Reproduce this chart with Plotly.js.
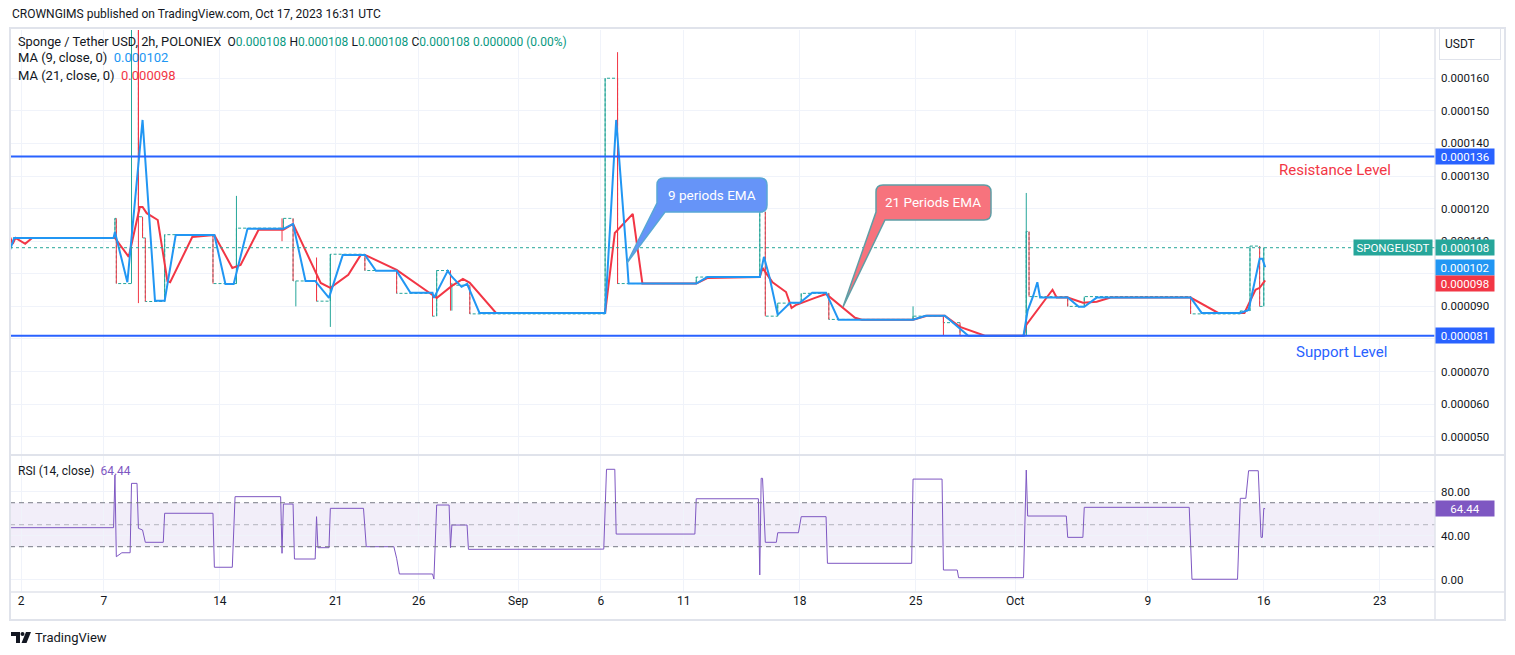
<!DOCTYPE html>
<html>
<head>
<meta charset="utf-8">
<script src="https://cdn.plot.ly/plotly-3.0.1.min.js"></script>
<style>html,body{margin:0;padding:0;background:#fff;}#chart{width:1515px;height:655px;}</style>
</head>
<body>
<div id="chart"></div>
<script>
// ---------------- DATA ----------------
// close price (step series, value holds until next time)
const priceT = ['2023-07-31 00:00','2023-08-07 16:00','2023-08-07 18:00','2023-08-08 16:00','2023-08-09 02:00','2023-08-09 08:00','2023-08-09 12:00','2023-08-10 16:00','2023-08-13 14:00','2023-08-15 00:00','2023-08-17 20:00','2023-08-18 10:00','2023-08-19 20:00','2023-08-20 16:00','2023-08-22 18:00','2023-08-24 16:00','2023-08-26 20:00','2023-08-27 02:00','2023-08-27 22:00','2023-08-29 02:00','2023-09-06 06:00','2023-09-07 00:00','2023-09-11 18:00','2023-09-15 14:00','2023-09-15 22:00','2023-09-16 16:00','2023-09-18 02:00','2023-09-19 18:00','2023-09-24 20:00','2023-09-26 16:00','2023-09-27 16:00','2023-10-01 16:00','2023-10-01 20:00','2023-10-04 04:00','2023-10-05 04:00','2023-10-11 14:00','2023-10-14 14:00','2023-10-15 04:00','2023-10-15 18:00','2023-10-16 00:00','2023-10-16 02:00'];
const priceV = [0.000111,0.000117,0.000097,0.000180,0.0001175,0.000111,0.0000915,0.000112,0.000097,0.000114,0.000117,0.0000978,0.0000916,0.000106,0.000101,0.000094,0.000087,0.000101,0.0000965,0.0000877,0.000160,0.000097,0.000099,0.000119,0.000087,0.000091,0.000094,0.000086,0.000087,0.000085,0.000081,0.000113,0.000093,0.000090,0.000093,0.0000877,0.0000886,0.0001085,0.000090,0.000108,0.000108];
// extra wicks
const wickT  = ['2023-08-08 16:00','2023-08-09 02:00','2023-08-15 00:00','2023-08-17 18:00','2023-08-18 14:00','2023-08-19 20:00','2023-08-20 16:00','2023-08-27 22:00','2023-08-28 00:00','2023-09-07 00:00','2023-09-24 20:00','2023-09-26 16:00','2023-10-01 16:00'];
const wickLo = [0.0000974,0.0000910,0.000097,0.000110,0.000090,0.0000916,0.0000837,0.0000887,0.0000887,0.000097,0.000086,0.000081,0.000081];
const wickHi = [0.000200,0.000200,0.0001239,0.000117,0.0000978,0.000105,0.000106,0.000101,0.0000972,0.000168,0.000090,0.000087,0.0001248];
const wickUp = [true,false,true,false,true,false,true,false,true,false,true,false,true];
// MA 9
const ma9T = ['2023-08-01 08:00','2023-08-01 14:00','2023-08-07 14:00','2023-08-07 16:00','2023-08-08 10:00','2023-08-09 08:00','2023-08-10 02:00','2023-08-10 16:00','2023-08-11 08:00','2023-08-13 16:00','2023-08-14 08:00','2023-08-14 20:00','2023-08-15 16:00','2023-08-17 20:00','2023-08-18 10:00','2023-08-19 04:00','2023-08-19 18:00','2023-08-20 14:00','2023-08-21 10:00','2023-08-22 18:00','2023-08-23 10:00','2023-08-24 16:00','2023-08-25 12:00','2023-08-26 20:00','2023-08-26 22:00','2023-08-27 18:00','2023-08-28 00:00','2023-08-28 14:00','2023-08-28 22:00','2023-08-29 16:00','2023-09-06 06:00','2023-09-06 22:00','2023-09-07 14:00','2023-09-07 16:00','2023-09-11 18:00','2023-09-12 10:00','2023-09-15 14:00','2023-09-15 20:00','2023-09-16 04:00','2023-09-16 16:00','2023-09-17 10:00','2023-09-18 00:00','2023-09-18 18:00','2023-09-19 14:00','2023-09-20 08:00','2023-09-24 20:00','2023-09-25 14:00','2023-09-26 18:00','2023-09-28 04:00','2023-10-01 12:00','2023-10-01 18:00','2023-10-02 02:00','2023-10-02 08:00','2023-10-02 12:00','2023-10-04 04:00','2023-10-04 20:00','2023-10-05 04:00','2023-10-05 22:00','2023-10-11 14:00','2023-10-12 06:00','2023-10-14 14:00','2023-10-15 02:00','2023-10-15 18:00','2023-10-15 22:00','2023-10-16 02:00'];
const ma9V = [0.0001073,0.000111,0.000111,0.0001128,0.0000974,0.0001472,0.0000917,0.0000917,0.0001119,0.0001119,0.0000969,0.0000969,0.0001138,0.0001138,0.0001153,0.0000978,0.0000978,0.0000926,0.0001058,0.0001058,0.0001009,0.0001009,0.0000942,0.0000942,0.0000926,0.0001009,0.0000991,0.000096,0.0000969,0.000088,0.000088,0.0001472,0.0001033,0.000097,0.000097,0.000099,0.000099,0.0001052,0.000099,0.0000874,0.0000911,0.0000911,0.0000942,0.0000942,0.0000859,0.0000859,0.0000871,0.0000871,0.000081,0.000081,0.0000887,0.0000932,0.0000974,0.0000927,0.0000927,0.0000899,0.0000899,0.0000927,0.0000927,0.000088,0.000088,0.0000889,0.0001046,0.0001046,0.000102];
// MA 21
const ma21T = ['2023-08-01 08:00','2023-08-01 12:00','2023-08-01 16:00','2023-08-02 06:00','2023-08-02 16:00','2023-08-07 16:00','2023-08-08 12:00','2023-08-09 04:00','2023-08-09 08:00','2023-08-09 14:00','2023-08-10 06:00','2023-08-10 20:00','2023-08-11 00:00','2023-08-12 08:00','2023-08-13 16:00','2023-08-14 18:00','2023-08-15 06:00','2023-08-16 08:00','2023-08-17 20:00','2023-08-18 10:00','2023-08-20 02:00','2023-08-20 16:00','2023-08-21 18:00','2023-08-22 12:00','2023-08-22 18:00','2023-08-24 16:00','2023-08-26 20:00','2023-08-27 02:00','2023-08-28 00:00','2023-08-28 16:00','2023-08-29 02:00','2023-08-30 16:00','2023-09-06 06:00','2023-09-06 20:00','2023-09-07 22:00','2023-09-08 12:00','2023-09-11 18:00','2023-09-12 10:00','2023-09-15 14:00','2023-09-15 18:00','2023-09-16 08:00','2023-09-17 04:00','2023-09-17 12:00','2023-09-17 18:00','2023-09-18 22:00','2023-09-19 14:00','2023-09-21 08:00','2023-09-21 18:00','2023-09-24 20:00','2023-09-25 16:00','2023-09-26 18:00','2023-09-27 16:00','2023-09-29 04:00','2023-10-01 12:00','2023-10-01 16:00','2023-10-03 06:00','2023-10-03 12:00','2023-10-04 04:00','2023-10-05 02:00','2023-10-05 22:00','2023-10-06 18:00','2023-10-11 14:00','2023-10-13 06:00','2023-10-14 20:00','2023-10-15 12:00','2023-10-15 18:00','2023-10-16 02:00'];
const ma21V = [0.0001113,0.0001092,0.000111,0.0001092,0.000111,0.000111,0.0001052,0.0001205,0.0001205,0.0001186,0.0001165,0.0000978,0.0000974,0.0001113,0.0001119,0.0001018,0.0001027,0.0001135,0.0001135,0.0001153,0.0000972,0.0000957,0.0000997,0.0001058,0.0001058,0.0001012,0.0000935,0.0000926,0.0000963,0.0000984,0.0000972,0.000088,0.000088,0.0001125,0.0001184,0.000097,0.000097,0.0000987,0.000099,0.0001018,0.0000975,0.0000944,0.0000895,0.0000904,0.0000926,0.0000938,0.0000865,0.0000859,0.0000859,0.0000871,0.0000871,0.0000837,0.000081,0.000081,0.0000843,0.0000951,0.0000927,0.0000927,0.0000911,0.0000914,0.0000927,0.0000927,0.000088,0.000088,0.0000951,0.0000957,0.000098];
// RSI 14
const rsiT = ['2023-08-01 06:00','2023-08-07 14:00','2023-08-07 16:00','2023-08-07 18:00','2023-08-08 02:00','2023-08-08 14:00','2023-08-08 16:00','2023-08-09 00:00','2023-08-09 02:00','2023-08-09 08:00','2023-08-09 12:00','2023-08-10 14:00','2023-08-10 16:00','2023-08-13 14:00','2023-08-13 16:00','2023-08-14 18:00','2023-08-14 22:00','2023-08-17 16:00','2023-08-17 18:00','2023-08-17 20:00','2023-08-18 10:00','2023-08-18 12:00','2023-08-19 18:00','2023-08-19 20:00','2023-08-19 22:00','2023-08-20 14:00','2023-08-20 16:00','2023-08-22 16:00','2023-08-22 20:00','2023-08-24 12:00','2023-08-24 16:00','2023-08-24 20:00','2023-08-26 20:00','2023-08-26 22:00','2023-08-27 02:00','2023-08-27 20:00','2023-08-27 22:00','2023-08-28 00:00','2023-08-28 22:00','2023-08-29 00:00','2023-09-06 04:00','2023-09-06 08:00','2023-09-06 20:00','2023-09-06 22:00','2023-09-11 16:00','2023-09-11 18:00','2023-09-15 12:00','2023-09-15 14:00','2023-09-15 16:00','2023-09-15 18:00','2023-09-15 22:00','2023-09-16 14:00','2023-09-16 16:00','2023-09-17 22:00','2023-09-18 02:00','2023-09-19 14:00','2023-09-19 16:00','2023-09-24 18:00','2023-09-24 20:00','2023-09-26 14:00','2023-09-26 16:00','2023-09-27 12:00','2023-09-27 14:00','2023-10-01 12:00','2023-10-01 16:00','2023-10-01 18:00','2023-10-04 02:00','2023-10-04 04:00','2023-10-05 02:00','2023-10-05 04:00','2023-10-11 12:00','2023-10-11 16:00','2023-10-14 10:00','2023-10-14 14:00','2023-10-14 22:00','2023-10-15 00:00','2023-10-15 02:00','2023-10-15 16:00','2023-10-15 20:00','2023-10-15 22:00','2023-10-16 00:00','2023-10-16 02:00'];
const rsiV = [47.3,47.3,95.2,20.9,24.5,24.5,87.6,87.6,46.7,45.2,34.0,34.0,60.4,60.4,11.3,11.3,75.5,75.5,24.0,68.8,68.8,18.8,18.8,57.3,29.1,29.1,64.9,64.9,30.0,30.0,19.5,5.2,5.2,0.6,67.9,67.9,29.1,49.7,49.7,27.6,27.8,100.4,100.4,41.5,41.5,73.6,73.6,4.3,92.2,92.2,34.0,34.0,42.7,42.7,57.3,57.3,14.9,14.9,91.5,91.5,8.8,8.8,1.8,1.8,99.7,57.9,57.9,38.5,38.5,65.8,65.8,0.4,0.4,74.0,74.0,87.6,99.1,99.1,38.5,38.5,64.9,64.44];
// levels & labels
const resistance = 0.000136, support = 0.000081, lastPrice = 0.000108, lastMA9 = 0.000102, lastMA21 = 0.000098, lastRSI = 64.44;
const xTickVals = ['2023-08-02','2023-08-07','2023-08-14','2023-08-21','2023-08-26','2023-09-01','2023-09-06','2023-09-11','2023-09-18','2023-09-25','2023-10-01','2023-10-09','2023-10-16','2023-10-23'];
const xTickText = ['2','7','14','21','26','Sep','6','11','18','25','Oct','9','16','23'];
const yTickVals = [0.00005,0.00006,0.00007,0.00008,0.00009,0.00010,0.00011,0.00012,0.00013,0.00014,0.00015,0.00016];
const yTickText = ['0.000050','0.000060','0.000070','','0.000090','','0.000110','0.000120','0.000130','0.000140','0.000150','0.000160'];
const rsiTickVals = [0,40,80];
const rsiTickText = ['0.00','40.00','80.00'];

// ---------------- LAYOUT HELPERS ----------------
const W=1515,H=655, L=10, R=1435, T=30, B=592;
const PX = p => (p-L)/(R-L);
const PY = p => (B-p)/(B-T);
const rsiTop = (B-455)/(B-T);

const UP='#26a69a', DN='#f23645';
const upX=[],upY=[],dnX=[],dnY=[];
for(let i=1;i<priceV.length;i++){
  if(priceV[i]===priceV[i-1]) continue;
  const up = priceV[i]>priceV[i-1];
  (up?upX:dnX).push(priceT[i],priceT[i],null);
  (up?upY:dnY).push(priceV[i-1],priceV[i],null);
}
for(let i=0;i<wickT.length;i++){
  (wickUp[i]?upX:dnX).push(wickT[i],wickT[i],null);
  (wickUp[i]?upY:dnY).push(wickLo[i],wickHi[i],null);
}

const traces = [
  {x:priceT,y:priceV,type:'scatter',mode:'lines',line:{shape:'hv',color:UP,width:1,dash:'3px,2px'},hoverinfo:'skip',xaxis:'x',yaxis:'y'},
  {x:upX,y:upY,type:'scatter',mode:'lines',line:{color:UP,width:1},hoverinfo:'skip',connectgaps:false},
  {x:dnX,y:dnY,type:'scatter',mode:'lines',line:{color:DN,width:1},hoverinfo:'skip',connectgaps:false},
  {x:ma21T,y:ma21V,type:'scatter',mode:'lines',line:{color:'#f23645',width:2},hoverinfo:'skip'},
  {x:ma9T,y:ma9V,type:'scatter',mode:'lines',line:{color:'#2196f3',width:2},hoverinfo:'skip'},
  {x:rsiT,y:rsiV,type:'scatter',mode:'lines',line:{color:'#7e57c2',width:1},hoverinfo:'skip',xaxis:'x',yaxis:'y2'}
];

const GRID='#f0f3fa', BORDER='#e0e3eb';
const shapes = [
  {type:'rect',xref:'paper',yref:'y2',x0:0,x1:1,y0:30,y1:70,fillcolor:'rgba(126,87,194,0.1)',line:{width:0},layer:'below'},
  {type:'line',xref:'paper',yref:'y2',x0:0,x1:1,y0:70,y1:70,line:{color:'#787b86',width:1,dash:'5px,4px'}},
  {type:'line',xref:'paper',yref:'y2',x0:0,x1:1,y0:50,y1:50,line:{color:'rgba(120,123,134,0.5)',width:1,dash:'5px,4px'}},
  {type:'line',xref:'paper',yref:'y2',x0:0,x1:1,y0:30,y1:30,line:{color:'#787b86',width:1,dash:'5px,4px'}},
  {type:'line',xref:'paper',yref:'y',x0:0,x1:1,y0:lastPrice,y1:lastPrice,line:{color:UP,width:1,dash:'dot'}},
  {type:'line',xref:'paper',yref:'y',x0:0,x1:1,y0:resistance,y1:resistance,line:{color:'#2962ff',width:2}},
  {type:'line',xref:'paper',yref:'y',x0:0,x1:1,y0:support,y1:support,line:{color:'#2962ff',width:2}},
  {type:'line',xref:'paper',yref:'paper',x0:PX(10),x1:PX(1505),y0:PY(455),y1:PY(455),line:{color:BORDER,width:2}},
  {type:'line',xref:'paper',yref:'paper',x0:PX(10),x1:PX(1505),y0:PY(592),y1:PY(592),line:{color:BORDER,width:1.5}},
  {type:'line',xref:'paper',yref:'paper',x0:PX(1435),x1:PX(1435),y0:PY(28),y1:PY(620),line:{color:BORDER,width:1.5}},
  {type:'rect',xref:'paper',yref:'paper',x0:PX(10),x1:PX(1505),y0:PY(620),y1:PY(28),line:{color:BORDER,width:2},fillcolor:'rgba(0,0,0,0)'}
];

function bubble(x0,y0,x1,y1,r,tl,tip,tb,fill,stroke){
  const P=(x,y)=>PX(x)+','+PY(y);
  const d='M'+P(tb[0],tb[1])+' L'+P(tip[0],tip[1])+' L'+P(tl[0],tl[1])+' L'+P(x0,y0+r)+
    ' Q'+P(x0,y0)+' '+P(x0+r,y0)+' L'+P(x1-r,y0)+' Q'+P(x1,y0)+' '+P(x1,y0+r)+
    ' L'+P(x1,y1-r)+' Q'+P(x1,y1)+' '+P(x1-r,y1)+' Z';
  return {type:'path',xref:'paper',yref:'paper',path:d,fillcolor:fill,line:{color:stroke,width:1.5}};
}
shapes.push(bubble(657,178,767,212,7,[657,203],[627,263],[665,212],'#6694f8','#58a6d6'));
shapes.push(bubble(876,185,991,220,7,[876,212],[843,307],[885,220],'#f7737d','#5f9ea6'));

(function(){
  const P=(x,y)=>PX(x)+','+PY(y);
  shapes.push({type:'path',xref:'paper',yref:'paper',path:'M'+P(11,632)+' L'+P(20,632)+' L'+P(20,643)+' L'+P(16,643)+' L'+P(16,636)+' L'+P(11,636)+' Z',fillcolor:'#131722',line:{width:0}});
  shapes.push({type:'circle',xref:'paper',yref:'paper',x0:PX(20.5),x1:PX(24.5),y0:PY(636),y1:PY(632),fillcolor:'#131722',line:{width:0}});
  shapes.push({type:'path',xref:'paper',yref:'paper',path:'M'+P(26,632)+' L'+P(31,632)+' L'+P(26.5,643)+' L'+P(21.5,643)+' Z',fillcolor:'#131722',line:{width:0}});
})();

const F='Roboto, "Open Sans", sans-serif';
function txt(px,py,text,opt){
  return Object.assign({xref:'paper',yref:'paper',x:PX(px),y:PY(py),text:text,showarrow:false,xanchor:'left',yanchor:'middle',font:{family:F,size:12,color:'#131722'}},opt||{});
}
const sp='\u00a0';
const tl = c => '<span style="color:#089981;font-size:12px">'+c+'</span>';
const dk = c => '<span style="font-size:12px">'+c+'</span>';
const annotations = [
  txt(10,14,'CROWNGIMS published on TradingView.com, Oct 17, 2023 16:31 UTC'),
  txt(16,41,'Sponge / Tether USD, 2h, POLONIEX'+sp+sp+dk('O')+tl(lastPrice.toFixed(6))+sp+dk('H')+tl(lastPrice.toFixed(6))+sp+dk('L')+tl(lastPrice.toFixed(6))+sp+dk('C')+tl(lastPrice.toFixed(6))+sp+tl('0.000000 (0.00%)'),{font:{family:F,size:12.8,color:'#131722'}}),
  txt(16,58,'MA (9, close, 0)'+sp+sp+'<span style="color:#2196f3">'+lastMA9.toFixed(6)+'</span>',{font:{family:F,size:13,color:'#131722'}}),
  txt(16,75,'MA (21, close, 0)'+sp+sp+'<span style="color:#f23645">'+lastMA21.toFixed(6)+'</span>',{font:{family:F,size:13,color:'#131722'}}),
  txt(16,471,'RSI (14, close)'+sp+sp+'<span style="color:#7e57c2">'+lastRSI.toFixed(2)+'</span>'),
  txt(1335,170,'Resistance Level',{xanchor:'center',font:{family:F,size:15,color:'#f23645'}}),
  txt(1341,352,'Support Level',{xanchor:'center',font:{family:F,size:15,color:'#2962ff'}}),
  txt(712,195,'9 periods EMA',{xanchor:'center',font:{family:F,size:13.5,color:'#ffffff'}}),
  txt(933,202,'21 Periods EMA',{xanchor:'center',font:{family:F,size:13.5,color:'#ffffff'}}),
  txt(1439,44,'USDT',{align:'left',width:50,height:20,borderpad:5,bgcolor:'#ffffff',bordercolor:BORDER,borderwidth:1,font:{family:F,size:12,color:'#131722'}}),
  txt(33,637,'TradingView',{font:{family:F,size:13,color:'#131722'}})
];
function priceTag(val,yref,color,text,ys){
  return {xref:'paper',yref:yref,x:1,y:val,yshift:ys||0,xanchor:'left',yanchor:'middle',showarrow:false,text:text,
    bgcolor:color,borderpad:1,width:56,height:13,align:'center',font:{family:F,size:11.5,color:'#ffffff'}};
}
annotations.push(priceTag(resistance,'y','#2962ff',resistance.toFixed(6)));
annotations.push(priceTag(support,'y','#2962ff',support.toFixed(6)));
annotations.push(priceTag(lastPrice,'y','#26a69a',lastPrice.toFixed(6)));
annotations.push(priceTag(lastMA9,'y','#2196f3',lastMA9.toFixed(6)));
annotations.push(priceTag(lastMA21,'y','#f23645',lastMA21.toFixed(6),-3));
annotations.push(priceTag(lastRSI,'y2','#7e57c2',lastRSI.toFixed(2)));
annotations.push({xref:'paper',yref:'y',x:1,xshift:-2,y:lastPrice,xanchor:'right',yanchor:'middle',showarrow:false,text:'SPONGEUSDT',
  bgcolor:'#26a69a',borderpad:1,width:76,height:13,align:'center',font:{family:F,size:11.5,color:'#ffffff'}});

const layout = {
  width:W,height:H,margin:{l:L,r:W-R,t:T,b:H-B},
  paper_bgcolor:'#ffffff',plot_bgcolor:'#ffffff',showlegend:false,
  font:{family:F,size:12,color:'#131722'},
  xaxis:{type:'date',range:['2023-08-01 08:00','2023-10-26 08:00'],anchor:'y2',tickvals:xTickVals,ticktext:xTickText,
    showgrid:true,gridcolor:GRID,zeroline:false,showline:false,ticks:'',tickfont:{family:F,size:12,color:'#131722'},fixedrange:true},
  yaxis:{domain:[rsiTop,1],range:[0.0000444,0.0001748],side:'right',anchor:'x',tickvals:yTickVals,ticktext:yTickText,
    showgrid:true,gridcolor:GRID,zeroline:false,showline:false,ticks:'',ticklabelstandoff:5,tickfont:{family:F,size:11.5,color:'#131722'},fixedrange:true},
  yaxis2:{domain:[0,rsiTop],range:[-11.2,113.4],side:'right',anchor:'x',tickvals:rsiTickVals,ticktext:rsiTickText,
    showgrid:true,gridcolor:GRID,zeroline:false,showline:false,ticks:'',ticklabelstandoff:5,tickfont:{family:F,size:11.5,color:'#131722'},fixedrange:true},
  shapes:shapes,annotations:annotations
};
Plotly.newPlot('chart',traces,layout,{displayModeBar:false,staticPlot:true});
</script>
</body>
</html>
